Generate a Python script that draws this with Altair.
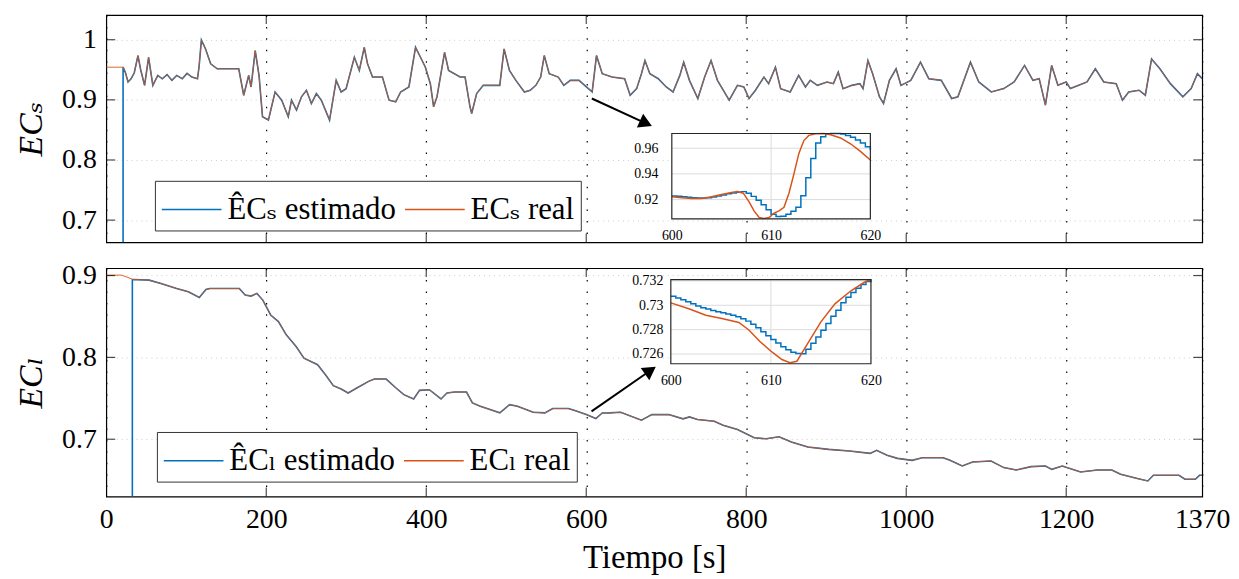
import altair as alt
import pandas as pd

FONT = "Times New Roman, Liberation Serif, DejaVu Serif, serif"
BLUE = "#0072BD"
ORANGE = "#D95319"

# ---------------- data ----------------
x_domain = [0, 1370]
x_ticks = [0, 200, 400, 600, 800, 1000, 1200, 1370]
x_grid = [200, 400, 600, 800, 1000, 1200]

# EC_s (top panel)
t_s = [0, 21, 24, 27.2, 31, 35, 39.6, 43, 47.9, 52.9, 58.2, 64.4, 70, 76, 82, 88, 95, 101, 107, 114,
       116, 118.9, 124, 130.5, 138.7, 165.6, 171.8, 178, 181, 186.2, 191, 195.3, 202.7, 211, 219.3,
       227.5, 231.6, 237.8, 244, 250.2, 256.4, 262.6, 268.8, 279.1, 287.4, 293.6, 299.8, 310.1, 316.3,
       322.5, 326.6, 332.8, 345.2, 353.5, 361.8, 368, 378.3, 386.6, 392.8, 398.9, 405.1, 409.2, 413.4,
       422.9, 427.9, 442.3, 448.5, 454.7, 456.8, 463, 471.3, 491.9, 497.3, 504, 512, 522.7, 530, 537,
       543, 547.5, 553.7, 565, 572, 580, 591, 598, 607.4, 612.8, 620, 632.2, 648, 654.9, 663, 669,
       673.4, 679.5, 690, 700, 708.5, 717, 721.8, 729, 739.5, 748, 756, 764, 778.7, 789, 797, 803.5,
       811.5, 822.1, 828, 836.5, 843, 855, 865.5, 874, 880, 889, 901, 909, 915, 921, 932, 942, 946,
       952.1, 958, 966.6, 971.6, 979, 987.3, 993.4, 1005.7, 1017.8, 1028.2, 1043.8, 1056.8, 1064.6,
       1080.3, 1090.7, 1106.3, 1121.9, 1134.9, 1147.9, 1158.4, 1166.2, 1174, 1181.8, 1189.6, 1200,
       1205.2, 1215.6, 1226, 1236.4, 1246.9, 1262.5, 1270.3, 1278.1, 1291.1, 1298.9, 1306.7, 1317.1,
       1330.2, 1345.8, 1356.2, 1364, 1370]
ecs_real = [0.9543, 0.9543, 0.945, 0.9296, 0.935, 0.945, 0.9736, 0.950, 0.9241, 0.9708, 0.9241, 0.9406,
            0.935, 0.942, 0.9324, 0.9406, 0.935, 0.944, 0.9379, 0.935, 0.955, 0.9994, 0.985, 0.9598,
            0.9516, 0.9516, 0.9076, 0.9406, 0.9214, 0.9818, 0.940, 0.8719, 0.8664, 0.9131, 0.8994,
            0.8719, 0.8994, 0.8829, 0.905, 0.9159, 0.8939, 0.9104, 0.8994, 0.8664, 0.9324, 0.9131,
            0.9186, 0.9708, 0.9489, 0.9873, 0.9598, 0.9379, 0.9379, 0.8994, 0.8966, 0.9131, 0.9214,
            0.9873, 0.9708, 0.9543, 0.9269, 0.8884, 0.9049, 0.979, 0.9489, 0.9379, 0.9379, 0.8884,
            0.8774, 0.9104, 0.9241, 0.9241, 0.9846, 0.9489, 0.9324, 0.9131, 0.9159, 0.9241, 0.9379,
            0.9736, 0.9434, 0.9379, 0.9241, 0.9324, 0.9324, 0.9241, 0.9131, 0.9736, 0.9434, 0.9379,
            0.9351, 0.9076, 0.9186, 0.9434, 0.9653, 0.9434, 0.9351, 0.9214, 0.9131, 0.9406, 0.9626,
            0.9324, 0.9021, 0.9379, 0.9653, 0.9324, 0.8994, 0.9241, 0.9214, 0.9021, 0.9159, 0.9379,
            0.9269, 0.9543, 0.9186, 0.9131, 0.9406, 0.9214, 0.9324, 0.9241, 0.9296, 0.9269, 0.9461,
            0.9186, 0.9241, 0.9269, 0.9186, 0.9653, 0.9434, 0.9049, 0.8939, 0.9324, 0.9516, 0.9241,
            0.9324, 0.9627, 0.9352, 0.9324, 0.9022, 0.905, 0.9627, 0.9297, 0.9132, 0.9187, 0.9297,
            0.9572, 0.9324, 0.9352, 0.8912, 0.9572, 0.9242, 0.9297, 0.9187, 0.9242, 0.9297, 0.9517,
            0.9297, 0.9269, 0.8994, 0.9132, 0.916, 0.9077, 0.968, 0.9517, 0.9269, 0.905, 0.9187,
            0.9434, 0.9352]
# estimator output before it locks on (below the axis range, jumps at t = 21 s)
ecs_est_start_t = [0, 21, 21]
ecs_est_start_v = [0.0, 0.0, 0.9543]
ys_domain = [0.663, 1.041]
ys_ticks = [0.7, 0.8, 0.9, 1.0]

# EC_l (bottom panel)
t_l = [0, 19.3, 34, 53.6, 68.3, 87.9, 102.6, 116.3, 124.6, 129.5, 166.3, 173.6, 181, 188.3, 195.7,
       205.5, 215.2, 225, 237.3, 247.1, 264.2, 274, 283.8, 293.6, 302.4, 313.2, 327.9, 335.2, 349.9,
       362.2, 372, 384.2, 391.6, 403.8, 418.5, 425.9, 435.6, 450.3, 457.7, 467.5, 479.7, 492, 504.2,
       514, 533.6, 548.3, 558.1, 577.7, 587.5, 600, 612, 620, 629.1, 643, 669, 682, 703, 721, 729,
       739, 760, 771, 789, 810, 825, 841, 856.4, 877, 903, 929, 955, 963, 976, 989, 1007.4, 1020,
       1046, 1054, 1070, 1083, 1106, 1122, 1137.5, 1156, 1174, 1182, 1195, 1218, 1239, 1257, 1268,
       1289, 1302, 1309, 1341, 1348.4, 1361.4, 1366.6, 1370]
ecl_real = [0.9005, 0.9005, 0.8951, 0.8944, 0.8903, 0.8842, 0.8802, 0.8733, 0.8830, 0.8842, 0.8842,
            0.8761, 0.8749, 0.8782, 0.8700, 0.8518, 0.8437, 0.8275, 0.8133, 0.7991, 0.7910, 0.7788,
            0.7654, 0.7614, 0.7565, 0.7626, 0.7707, 0.7735, 0.7735, 0.7626, 0.7545, 0.7492, 0.7597,
            0.7605, 0.7492, 0.7565, 0.7577, 0.7577, 0.7443, 0.7403, 0.7362, 0.7322, 0.7423, 0.7403,
            0.7330, 0.7322, 0.7375, 0.7375, 0.7346, 0.7302, 0.7253, 0.7321, 0.7322, 0.7330, 0.7232,
            0.7301, 0.7301, 0.7249, 0.7273, 0.7241, 0.7220, 0.7172, 0.7119, 0.7018, 0.7005, 0.7030,
            0.6965, 0.6904, 0.6876, 0.6856, 0.6827, 0.6864, 0.6803, 0.6766, 0.6742, 0.6774, 0.6774,
            0.6746, 0.6673, 0.6722, 0.6734, 0.6653, 0.6624, 0.6665, 0.6673, 0.6632, 0.6673, 0.6600,
            0.6624, 0.6624, 0.6571, 0.6519, 0.6490, 0.6559, 0.6559, 0.6511, 0.6511, 0.6559, 0.6560]
ecl_est_start_t = [0, 32.6, 32.6]
ecl_est_start_v = [0.0, 0.0, 0.8948]
yl_domain = [0.630, 0.909]
yl_ticks = [0.7, 0.8, 0.9]

# zoom insets (600 s - 620 s)
ins_x_domain = [600, 620]
ins_x_ticks = [600, 610, 620]
ins_x_grid = [610]

ins_s_real_t = [600, 601, 602, 603, 604, 605, 606, 606.6, 607.2, 607.8, 608.3, 608.8, 609.3, 609.8,
                610.3, 610.8, 611.3, 611.8, 612.3, 612.8, 613.3, 613.8, 614.5, 615.3, 616, 617, 618,
                619, 620]
ins_s_real_v = [0.9222, 0.9215, 0.9208, 0.9208, 0.9222, 0.9240, 0.9256, 0.9262, 0.9250, 0.9180,
                0.9110, 0.9060, 0.9052, 0.9060, 0.9095, 0.9112, 0.9140, 0.9250, 0.9400, 0.9560,
                0.9660, 0.9700, 0.9713, 0.9715, 0.9705, 0.9680, 0.9635, 0.9575, 0.9508]
ins_s_est_t = [600, 600.5, 601, 601.5, 602, 602.5, 603, 603.5, 604, 604.5, 605, 605.5, 606, 606.5,
               607, 607.5, 608, 608.5, 609, 609.5, 610, 610.5, 611, 611.5, 612, 612.5, 613, 613.5,
               614, 614.5, 615, 615.5, 616, 616.5, 617, 617.5, 618, 618.5, 619, 619.5, 620]
ins_s_est_v = [0.9228, 0.9226, 0.9222, 0.9218, 0.9214, 0.9212, 0.9212, 0.9214, 0.9220, 0.9228,
               0.9236, 0.9245, 0.9252, 0.9258, 0.9262, 0.9250, 0.9225, 0.9195, 0.9160, 0.9120,
               0.9085, 0.9068, 0.9070, 0.9085, 0.9110, 0.9140, 0.9230, 0.9370, 0.9520, 0.9640,
               0.9690, 0.9708, 0.9714, 0.9715, 0.9710, 0.9700, 0.9685, 0.9665, 0.9640, 0.9612, 0.9587]
ins_s_domain = [0.905, 0.9715]
ins_s_ticks = [0.92, 0.94, 0.96]

ins_l_real_t = [600, 601.8, 603.5, 605.1, 606.8, 607.8, 608.9, 610.1, 611.1, 611.9, 612.6, 613.7,
                615.0, 616.4, 618.0, 619.3, 620]
ins_l_real_v = [0.73020, 0.72972, 0.72918, 0.72891, 0.72859, 0.72797, 0.72703, 0.72617, 0.72555,
                0.72528, 0.72541, 0.72689, 0.72864, 0.73012, 0.73119, 0.73187, 0.73213]
ins_l_est_t = ins_s_est_t
ins_l_est_v = [0.73074, 0.73060, 0.73045, 0.73030, 0.73012, 0.72995, 0.72980, 0.72970, 0.72958,
               0.72947, 0.72938, 0.72928, 0.72918, 0.72905, 0.72890, 0.72870, 0.72845, 0.72815,
               0.72783, 0.72750, 0.72720, 0.72690, 0.72660, 0.72635, 0.72615, 0.72605, 0.72603,
               0.72640, 0.72689, 0.72740, 0.72795, 0.72850, 0.72910, 0.72960, 0.73020, 0.73065,
               0.73105, 0.73140, 0.73170, 0.73195, 0.73213]
ins_l_domain = [0.7252, 0.7321]
ins_l_ticks = [0.726, 0.728, 0.73, 0.732]

# arrows (start point, head point) in data units of each panel
arrow_s_t = [607.0, 674.6]
arrow_s_v = [0.9022, 0.8609]
arrow_l_t = [606.6, 680.2]
arrow_l_v = [0.7341, 0.7840]

labels_s = ["ÊCₛ estimado", "ECₛ real"]
labels_l = ["ÊCₗ estimado", "ECₗ real"]

# ---------------- layout / style ----------------
W = 1104
H = 229
LAB = 28
AX = dict(labelFont=FONT, titleFont=FONT, labelColor="black", titleColor="black",
          titleFontWeight="normal")


def panel(H, t_real, v_real, st_t, st_v, labels, ydom, yticks, ytitle, show_x, leg_xy,
          i_real_t, i_real_v, i_est_t, i_est_v, i_ydom, i_yticks, i_xrange, i_yrange,
          i_xoff, i_yoff, i_xpad, i_ypad, a_t, a_v, a_angle):
    xscale = alt.Scale(domain=x_domain, nice=False, zero=False)
    yscale = alt.Scale(domain=ydom, nice=False, zero=False)
    if show_x:
        xaxis = alt.Axis(values=x_ticks, format="d", grid=True, gridDash=[1.5, 10], gridColor="black",
                         gridWidth=1.2, ticks=False, domain=False, labelFontSize=LAB, labelPadding=9,
                         labelFlush=False, title="Tiempo [s]", titleFontSize=33, titlePadding=9, **AX)
    else:
        xaxis = alt.Axis(values=x_ticks, grid=True, gridDash=[1.5, 10], gridColor="black",
                         gridWidth=1.2, ticks=False, domain=False, labels=False, title=None, **AX)
    yaxis = alt.Axis(values=yticks, format="~g", grid=True, gridDash=[1, 4], gridColor="#999999",
                     gridOpacity=0.5, ticks=False, domain=False, labelFontSize=LAB, labelPadding=10,
                     title=ytitle, titleFontSize=34, titleFontStyle="italic", titleX=-58, **AX)
    X = alt.X("t:Q", scale=xscale, axis=xaxis)
    Y = alt.Y("v:Q", scale=yscale, axis=yaxis)
    colscale = alt.Scale(domain=labels, range=[BLUE, ORANGE])
    legend = alt.Legend(orient="none", legendX=leg_xy[0], legendY=leg_xy[1], direction="horizontal",
                        title=None, symbolType="M-1.38,0H1.38", symbolSize=1900, symbolStrokeWidth=1.5,
                        symbolOffset=8, labelFontSize=31, labelFont=FONT, labelColor="black",
                        strokeColor="#333333", fillColor="white",
                        padding=6, columnPadding=5, labelOffset=13, labelLimit=400)
    C = alt.Color("s:N", scale=colscale, legend=legend)

    real_df = pd.DataFrame({"t": t_real, "v": v_real, "s": labels[1]})
    real_df["i"] = range(len(real_df))
    et = list(st_t) + [t for t in t_real if t > st_t[-1]]
    ev = list(st_v) + [v for t, v in zip(t_real, v_real) if t > st_t[-1]]
    est_df = pd.DataFrame({"t": et, "v": ev, "s": labels[0]})
    est_df["i"] = range(len(est_df))

    blue = alt.Chart(est_df).mark_line(strokeWidth=1.6, clip=True).encode(x=X, y=Y, color=C, order="i:Q")
    orange = alt.Chart(real_df).mark_line(strokeWidth=0.9, clip=True).encode(x=X, y=Y, color=C, order="i:Q")

    xt = pd.DataFrame({"t": x_grid})
    yt = pd.DataFrame({"v": yticks})
    tk = dict(color="black", thickness=1.2, size=9)
    ticks = [
        alt.Chart(xt).mark_tick(orient="vertical", **tk).encode(x=X, y=alt.value(H - 4.5)),
        alt.Chart(xt).mark_tick(orient="vertical", **tk).encode(x=X, y=alt.value(4.5)),
        alt.Chart(yt).mark_tick(orient="horizontal", **tk).encode(y=Y, x=alt.value(4.5)),
        alt.Chart(yt).mark_tick(orient="horizontal", **tk).encode(y=Y, x=alt.value(W - 4.5)),
    ]
    adf = pd.DataFrame({"t": a_t, "v": a_v, "i": [0, 1]})
    arrow = alt.Chart(adf).mark_line(color="black", strokeWidth=2).encode(x=X, y=Y, order="i:Q")
    head = alt.Chart(adf.iloc[[1]]).mark_point(shape="triangle-right", filled=True, size=230,
                                                 color="black", opacity=1, angle=a_angle).encode(x=X, y=Y)
    main = alt.layer(blue, orange, *ticks, arrow, head)

    # ---- inset ----
    IX = alt.X("ti:Q", scale=alt.Scale(domain=ins_x_domain, range=i_xrange, nice=False, zero=False),
               axis=alt.Axis(values=ins_x_ticks, format="d", orient="bottom", offset=i_xoff, grid=False,
                             ticks=False, domain=False, labelFontSize=14, labelPadding=i_xpad,
                             labelFlush=False, title=None, **AX))
    IY = alt.Y("vi:Q", scale=alt.Scale(domain=i_ydom, range=i_yrange, nice=False, zero=False),
               axis=alt.Axis(values=i_yticks, format="~g", orient="left", offset=i_yoff, grid=False,
                             ticks=False, domain=False, labelFontSize=14, labelPadding=i_ypad,
                             title=None, **AX))
    box = pd.DataFrame({"ti": [ins_x_domain[0]], "ti2": [ins_x_domain[1]],
                        "vi": [i_ydom[0]], "vi2": [i_ydom[1]]})
    bg = alt.Chart(box).mark_rect(fill="white").encode(x=IX, x2="ti2", y=IY, y2="vi2")
    vg = alt.Chart(pd.DataFrame({"ti": ins_x_grid, "vi": i_ydom[0], "vi2": i_ydom[1]})).mark_rule(
        color="#dcdcdc", strokeWidth=1).encode(x=IX, y=IY, y2="vi2")
    hg = alt.Chart(pd.DataFrame({"vi": i_yticks, "ti": ins_x_domain[0], "ti2": ins_x_domain[1]})).mark_rule(
        color="#dcdcdc", strokeWidth=1).encode(y=IY, x=IX, x2="ti2")
    iest = alt.Chart(pd.DataFrame({"ti": i_est_t, "vi": i_est_v})).mark_line(
        color=BLUE, strokeWidth=1.5, interpolate="step-after").encode(x=IX, y=IY)
    ireal = alt.Chart(pd.DataFrame({"ti": i_real_t, "vi": i_real_v})).mark_line(
        color=ORANGE, strokeWidth=1.5).encode(x=IX, y=IY)
    frame = alt.Chart(box).mark_rect(fillOpacity=0, stroke="#262626", strokeWidth=1.2).encode(
        x=IX, x2="ti2", y=IY, y2="vi2")
    inset = alt.layer(bg, vg, hg, iest, ireal, frame)

    return alt.layer(main, inset).resolve_scale(x="independent", y="independent").properties(
        width=W, height=H)


top = panel(H, t_s, ecs_real, ecs_est_start_t, ecs_est_start_v, labels_s, ys_domain, ys_ticks,
            "ECₛ", False, (49, 167),
            ins_s_real_t, ins_s_real_v, ins_s_est_t, ins_s_est_v, ins_s_domain, ins_s_ticks,
            [569.7, 769.7], [205.3, 119.3], -23.7, -569.7, 10, 14,
            arrow_s_t, arrow_s_v, 24.6)
bottom = panel(230, t_l, ecl_real, ecl_est_start_t, ecl_est_start_v, labels_l, yl_domain, yl_ticks,
               "ECₗ", True, (51, 165),
               ins_l_real_t, ins_l_real_v, ins_l_est_t, ins_l_est_v, ins_l_domain, ins_l_ticks,
               [568.7, 770.3], [96.3, 11.6], -133.7, -568.7, 10, 8,
               arrow_l_t, arrow_l_v, 325.4)

chart = alt.vconcat(top, bottom, spacing=17).resolve_scale(color="independent").configure(
    padding={"left": 6, "top": 4, "right": 0, "bottom": 0}, background="white", font=FONT,
    style={"guide-label": {"font": FONT}, "guide-title": {"font": FONT}}
).configure_view(stroke="black", strokeWidth=1.2).configure_axis(
    labelFont=FONT, titleFont=FONT
).configure_legend(labelFont=FONT)

chart.save("out.html", embed_options={"renderer": "svg", "actions": False})
